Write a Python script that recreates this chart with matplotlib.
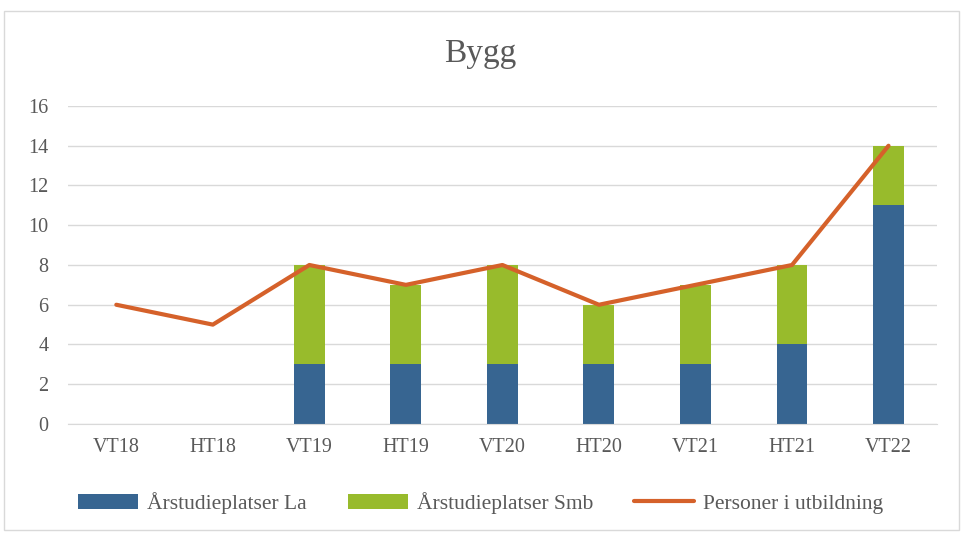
import matplotlib.pyplot as plt
from matplotlib.patches import Rectangle
import numpy as np

plt.rcParams['font.family'] = ['Liberation Serif', 'DejaVu Serif']

# Data
terms = ['VT18', 'HT18', 'VT19', 'HT19', 'VT20', 'HT20', 'VT21', 'HT21', 'VT22']
la = [0, 0, 3, 3, 3, 3, 3, 4, 11]
smb = [0, 0, 5, 4, 5, 3, 4, 4, 3]
personer = [6, 5, 8, 7, 8, 6, 7, 8, 14]

txt = '#595959'

fig = plt.figure(figsize=(9.61, 5.34), dpi=100)
ax = fig.add_axes([0.0708, 0.206, 0.904, 0.5955])

# outer frame of the chart area
fig.patches.append(Rectangle((0.004, 0.008), 0.994, 0.972, transform=fig.transFigure,
                             fill=False, edgecolor='#d9d9d9', linewidth=1))

x = np.arange(len(terms))
b1 = ax.bar(x, la, width=0.32, color='#376591', label='Årstudieplatser La', zorder=2)
b2 = ax.bar(x, smb, width=0.32, bottom=la, color='#98bb2c', label='Årstudieplatser Smb', zorder=2)
l1, = ax.plot(x, personer, color='#d5612a', linewidth=3, solid_capstyle='round',
              label='Personer i utbildning', zorder=3)

ax.set_xlim(-0.5, len(terms) - 0.5)
ax.set_ylim(0, 16)
ax.set_yticks(range(0, 17, 2))
ax.set_xticks(x)
ax.set_xticklabels(terms)
ax.grid(axis='y', color='#d9d9d9', linewidth=1, zorder=0)
ax.tick_params(length=0, labelsize=14.5, colors=txt, pad=10)
ax.tick_params(axis='y', pad=14)
for s in ['top', 'right', 'left']:
    ax.spines[s].set_visible(False)
ax.spines['bottom'].set_color('#d9d9d9')

fig.text(0.5, 0.9, 'Bygg', ha='center', va='center', fontsize=24, color=txt)

fig.legend(handles=[b1, b2, l1], loc='center', bbox_to_anchor=(0.5, 0.058), ncol=3,
           frameon=False, fontsize=15.5, labelcolor=txt, handlelength=2.8,
           handleheight=0.7, columnspacing=1.9, handletextpad=0.4)

fig.savefig('out.png', dpi=100)
